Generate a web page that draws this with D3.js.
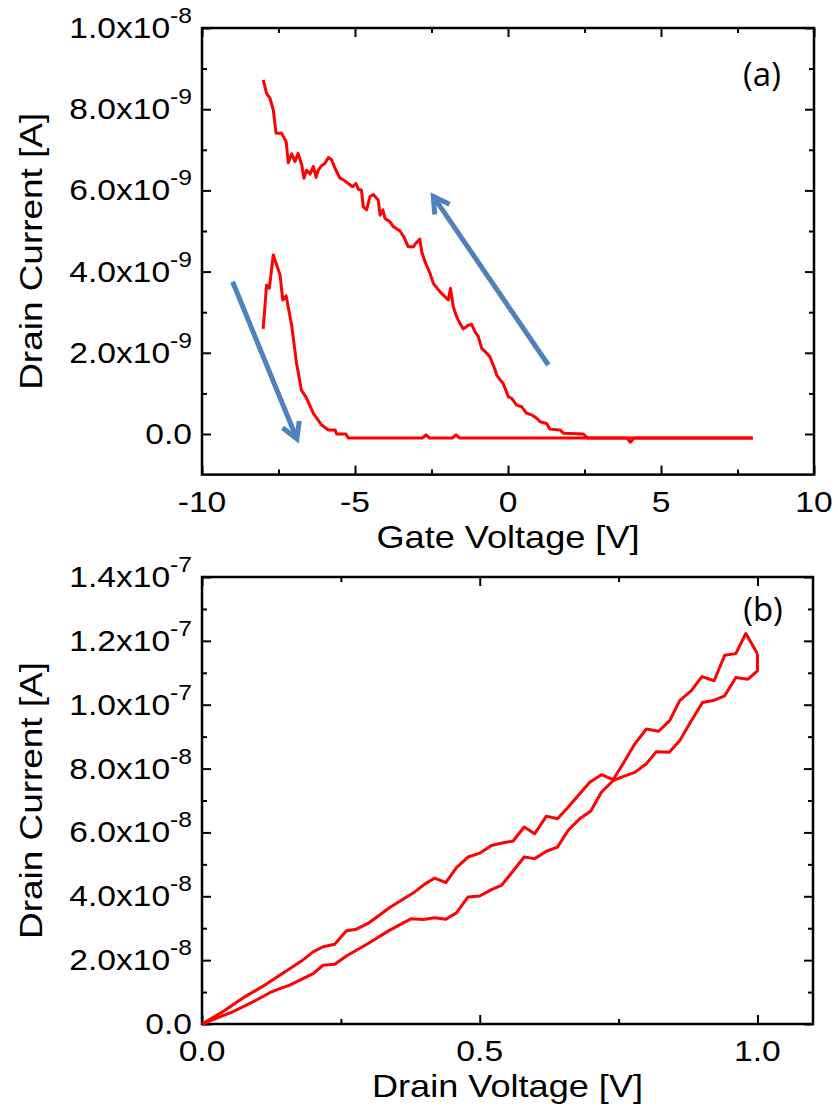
<!DOCTYPE html>
<html>
<head>
<meta charset="utf-8">
<script src="https://cdn.jsdelivr.net/npm/d3@7"></script>
<style>
    body { margin: 0; background: #fff; }
</style>
</head>
<body>
<div id="chart"></div>
<script>
// ---- panel (a): transfer curve, [gate V, drain current in nA] ----
const gateSweepUp = [
    [-8.00, 2.59], [-7.89, 3.67], [-7.85, 3.62], [-7.80, 3.59], [-7.67, 4.41], [-7.45, 3.92],
    [-7.36, 3.30], [-7.25, 3.40], [-7.07, 2.68], [-6.91, 1.74], [-6.75, 1.08], [-6.58, 0.88],
    [-6.36, 0.51], [-6.09, 0.22], [-5.87, 0.10], [-5.65, 0.10], [-5.60, 0.00], [-5.30, 0.00],
    [-5.22, -0.10], [-2.80, -0.10], [-2.68, -0.02], [-2.56, -0.10], [-1.82, -0.10],
    [-1.70, -0.02], [-1.58, -0.10], [3.88, -0.10], [4.00, -0.20], [4.12, -0.10], [8.00, -0.10]
];
const gateSweepDown = [
    [8.00, -0.10], [2.60, -0.10], [2.46, 0.00], [1.81, 0.02], [1.70, 0.10], [1.37, 0.12],
    [1.26, 0.26], [1.05, 0.30], [0.94, 0.39], [0.78, 0.47], [0.61, 0.51], [0.45, 0.67],
    [0.28, 0.71], [0.12, 0.88], [0.01, 0.92], [-0.16, 1.25], [-0.21, 1.29], [-0.37, 1.45],
    [-0.42, 1.58], [-0.53, 1.78], [-0.59, 1.90], [-0.75, 2.03], [-0.86, 2.11], [-0.97, 2.40],
    [-1.08, 2.52], [-1.19, 2.70], [-1.30, 2.68], [-1.46, 2.59], [-1.57, 2.72], [-1.68, 2.89],
    [-1.79, 3.14], [-1.88, 3.59], [-1.95, 3.30], [-2.22, 3.50], [-2.44, 3.71], [-2.55, 3.96],
    [-2.71, 4.24], [-2.82, 4.49], [-2.88, 4.80], [-3.01, 4.70], [-3.09, 4.61], [-3.26, 4.61],
    [-3.40, 4.85], [-3.53, 5.00], [-3.75, 5.11], [-3.86, 5.23], [-4.02, 5.31], [-4.09, 5.52],
    [-4.18, 5.39], [-4.24, 5.76], [-4.40, 5.90], [-4.51, 5.85], [-4.62, 5.52], [-4.73, 5.60],
    [-4.79, 6.01], [-4.89, 6.03], [-4.97, 6.17], [-5.08, 6.09], [-5.22, 6.17], [-5.38, 6.26],
    [-5.49, 6.30], [-5.65, 6.54], [-5.76, 6.75], [-5.87, 6.81], [-5.98, 6.67], [-6.09, 6.61],
    [-6.20, 6.50], [-6.27, 6.32], [-6.36, 6.59], [-6.47, 6.40], [-6.58, 6.50], [-6.67, 6.30],
    [-6.74, 6.63], [-6.86, 6.91], [-6.96, 6.71], [-7.07, 6.90], [-7.18, 6.68], [-7.25, 7.20],
    [-7.40, 7.41], [-7.58, 7.41], [-7.67, 7.98], [-7.78, 8.27], [-7.89, 8.39], [-8.00, 8.72]
];
// sweep direction arrows, [gate V, nA] tail -> head
const gateArrows = [
    {from: [-9.00, 3.75], to: [-6.90, -0.12]},
    {from: [1.32, 1.70], to: [-2.44, 5.85]}
];
const gateXTicks = [-10, -5, 0, 5, 10];
const gateXMinor = [-7.5, -2.5, 2.5, 7.5];
const gateYTicks = [0, 2e-9, 4e-9, 6e-9, 8e-9, 1e-8];
const gateYMinor = [1e-9, 3e-9, 5e-9, 7e-9, 9e-9];

// ---- panel (b): output curve, [drain V, drain current in 1e-8 A] ----
const drainSweepUp = [
    [0, 0], [0.038, 0.39], [0.077, 0.85], [0.116, 1.25], [0.140, 1.53], [0.179, 1.97],
    [0.200, 2.26], [0.218, 2.42], [0.239, 2.50], [0.260, 2.92], [0.278, 2.97], [0.299, 3.15],
    [0.338, 3.65], [0.380, 4.10], [0.401, 4.38], [0.419, 4.57], [0.439, 4.43], [0.458, 4.90],
    [0.479, 5.23], [0.500, 5.35], [0.521, 5.59], [0.540, 5.67], [0.560, 5.73], [0.580, 6.17],
    [0.599, 5.96], [0.620, 6.51], [0.640, 6.43], [0.659, 6.79], [0.680, 7.21], [0.698, 7.57],
    [0.719, 7.81], [0.740, 7.65], [0.758, 8.15], [0.779, 8.77], [0.800, 9.24], [0.822, 9.17],
    [0.842, 9.50], [0.860, 10.13], [0.881, 10.44], [0.900, 10.88], [0.922, 10.75], [0.941, 11.55],
    [0.961, 11.60], [0.979, 12.23], [1.000, 11.60]
];
const drainSweepDown = [
    [1.000, 11.60], [1.000, 11.06], [0.983, 10.80], [0.961, 10.85], [0.941, 10.28], [0.920, 10.13],
    [0.901, 10.07], [0.881, 9.50], [0.860, 8.87], [0.841, 8.51], [0.818, 8.53], [0.800, 8.15],
    [0.779, 7.88], [0.758, 7.75], [0.740, 7.62], [0.719, 7.26], [0.700, 6.67], [0.680, 6.43],
    [0.659, 6.06], [0.640, 5.54], [0.620, 5.41], [0.599, 5.18], [0.580, 5.23], [0.554, 4.66],
    [0.539, 4.34], [0.521, 4.21], [0.500, 4.01], [0.479, 3.98], [0.458, 3.48], [0.439, 3.28],
    [0.419, 3.33], [0.398, 3.27], [0.377, 3.30], [0.338, 2.94], [0.299, 2.52], [0.260, 2.13],
    [0.239, 1.87], [0.218, 1.84], [0.200, 1.58], [0.179, 1.40], [0.158, 1.22], [0.140, 1.11],
    [0.122, 0.98], [0.098, 0.75], [0.056, 0.39], [0, 0]
];
const drainXTicks = [0, 0.5, 1.0];
const drainXMinor = [0.25, 0.75];
const drainYTicks = [0, 2e-8, 4e-8, 6e-8, 8e-8, 1e-7, 1.2e-7, 1.4e-7];
const drainYMinor = [1e-8, 3e-8, 5e-8, 7e-8, 9e-8, 1.1e-7, 1.3e-7];

const FONT = "'Liberation Sans', Arial, sans-serif";
const STRETCH = 1.12;
const RED = "#ff0000";
const BLUE = "#4f81bd";

const svg = d3.select("#chart").append("svg")
    .attr("width", 838)
    .attr("height", 1113);

// "2.0x10^-9" style label
function sciParts(v) {
    if (v === 0) return ["0.0", null];
    let e = Math.floor(Math.log10(v) + 1e-9);
    return [(v / Math.pow(10, e)).toFixed(1) + "x10", String(e)];
}

function stretchedText(x, y, anchor) {
    return svg.append("g")
        .attr("transform", `translate(${x},${y}) scale(${STRETCH},1)`)
        .append("text")
        .attr("text-anchor", anchor)
        .attr("font-family", FONT)
        .attr("font-size", 30)
        .attr("fill", "#000");
}

function drawPanel(p) {
    let x = p.x, y = p.y;
    let [x0, x1] = x.range(), [y0, y1] = y.range();

    let tickAxes = [
        [d3.axisBottom(x), `translate(0,${y0})`, p.xTicks, p.xMinor, -1],
        [d3.axisTop(x), `translate(0,${y1})`, p.xTicks, p.xMinor, -1],
        [d3.axisLeft(y), `translate(${x0},0)`, p.yTicks, p.yMinor, -1],
        [d3.axisRight(y), `translate(${x1},0)`, p.yTicks, p.yMinor, -1]
    ];
    tickAxes.forEach(([ax, tr, major, minor]) => {
        [[major, 9], [minor, 5]].forEach(([vals, len]) => {
            let g = svg.append("g")
                .attr("transform", tr)
                .call(ax.tickValues(vals).tickSize(-len).tickFormat(""));
            g.select(".domain").remove();
            g.selectAll("line").attr("stroke", "#000").attr("stroke-width", 2);
        });
    });

    // frame
    svg.append("rect")
        .attr("x", x0).attr("y", y1)
        .attr("width", x1 - x0).attr("height", y0 - y1)
        .attr("fill", "none")
        .attr("stroke", "#000")
        .attr("stroke-width", 2.5);

    // x tick labels
    p.xTicks.forEach(v => {
        stretchedText(x(v), y0 + 37, "middle").text(p.xFormat(v));
    });

    // y tick labels with superscript exponent
    p.yTicks.forEach(v => {
        let [mant, exp] = sciParts(v);
        let t = stretchedText(x0 - 10, y(v) + 10, "end");
        t.append("tspan").text(mant);
        if (exp) {
            t.append("tspan").attr("font-size", 22).attr("dy", -15).text(exp);
        }
    });

    // axis titles
    svg.append("text")
        .attr("x", (x0 + x1) / 2)
        .attr("y", y0 + 73)
        .attr("text-anchor", "middle")
        .attr("font-family", FONT)
        .attr("font-size", 32)
        .attr("textLength", p.xTitleLen)
        .attr("lengthAdjust", "spacingAndGlyphs")
        .text(p.xTitle);

    svg.append("text")
        .attr("transform", `translate(42,${(y0 + y1) / 2}) rotate(-90)`)
        .attr("text-anchor", "middle")
        .attr("font-family", FONT)
        .attr("font-size", 32)
        .attr("textLength", 277)
        .attr("lengthAdjust", "spacingAndGlyphs")
        .text("Drain Current [A]");

    // curves
    let line = d3.line()
        .x(d => x(d[0]))
        .y(d => y(d[1] * p.unit));
    p.series.forEach(s => {
        svg.append("path")
            .datum(s)
            .attr("d", line)
            .attr("fill", "none")
            .attr("stroke", RED)
            .attr("stroke-width", 3)
            .attr("stroke-linejoin", "round");
    });

    // arrows
    (p.arrows || []).forEach(a => {
        let tx = x(a.from[0]), ty = y(a.from[1] * p.unit);
        let hx = x(a.to[0]), hy = y(a.to[1] * p.unit);
        let ang = Math.atan2(ty - hy, tx - hx);
        let arm = 18, spread = Math.PI / 6;
        svg.append("line")
            .attr("x1", tx).attr("y1", ty)
            .attr("x2", hx + Math.cos(ang) * 2).attr("y2", hy + Math.sin(ang) * 2)
            .attr("stroke", BLUE)
            .attr("stroke-width", 5);
        let head = d3.path();
        head.moveTo(hx + arm * Math.cos(ang - spread), hy + arm * Math.sin(ang - spread));
        head.lineTo(hx, hy);
        head.lineTo(hx + arm * Math.cos(ang + spread), hy + arm * Math.sin(ang + spread));
        svg.append("path")
            .attr("d", head.toString())
            .attr("fill", "none")
            .attr("stroke", BLUE)
            .attr("stroke-width", 5)
            .attr("stroke-linejoin", "miter");
    });

    // panel tag
    svg.append("text")
        .attr("x", p.tag[1])
        .attr("y", p.tag[2])
        .attr("text-anchor", "middle")
        .attr("font-family", "'Open Sans', sans-serif")
        .attr("font-size", 33)
        .text(p.tag[0]);
}

drawPanel({
    x: d3.scaleLinear().domain([-10, 10]).range([202, 814]),
    y: d3.scaleLinear().domain([-1e-9, 1e-8]).range([474.6, 28]),
    unit: 1e-9,
    xTicks: gateXTicks, xMinor: gateXMinor,
    yTicks: gateYTicks, yMinor: gateYMinor,
    xFormat: v => String(v),
    xTitle: "Gate Voltage [V]", xTitleLen: 263,
    series: [gateSweepUp, gateSweepDown],
    arrows: gateArrows,
    tag: ["(a)", 762, 86]
});

drawPanel({
    x: d3.scaleLinear().domain([0, 1.1]).range([202, 813]),
    y: d3.scaleLinear().domain([0, 1.4e-7]).range([1024, 577]),
    unit: 1e-8,
    xTicks: drainXTicks, xMinor: drainXMinor,
    yTicks: drainYTicks, yMinor: drainYMinor,
    xFormat: v => v.toFixed(1),
    xTitle: "Drain Voltage [V]", xTitleLen: 271,
    series: [drainSweepUp, drainSweepDown],
    tag: ["(b)", 763, 621]
});
</script>
</body>
</html>
